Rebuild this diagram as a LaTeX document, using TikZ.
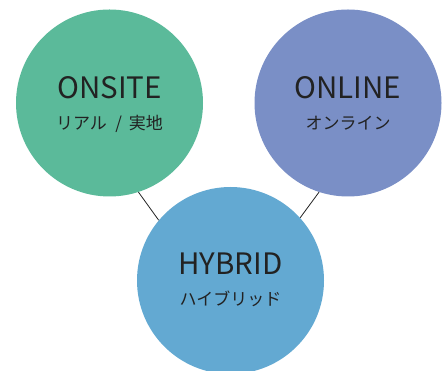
\documentclass[tikz,border=0pt]{standalone}
\usepackage{fontspec}
\newfontfamily\jpfont{Noto Sans CJK JP}
\definecolor{onsitegreen}{HTML}{5BBA9A}
\definecolor{onlineblue}{HTML}{7A8FC6}
\definecolor{hybridblue}{HTML}{63A9D2}
\definecolor{inkdark}{HTML}{222222}
\tikzset{
  bubble/.style={circle, inner sep=0pt, minimum size=187pt},
  title/.style={font=\jpfont\fontsize{29.5}{29.5}\selectfont, text=inkdark, anchor=base, inner sep=0pt},
  subtitle/.style={font=\jpfont\fontsize{17}{17}\selectfont, text=inkdark, anchor=base, inner sep=0pt},
  link/.style={draw=inkdark, line width=0.8pt}
}
\begin{document}
\begin{tikzpicture}[x=1pt,y=1pt]
  \useasboundingbox (0,0) rectangle (444,371);
  \clip (0,0) rectangle (444,371);
  % three circles
  \node[bubble, fill=onsitegreen] (onsite) at (109.5,268) {};
  \node[bubble, fill=onlineblue]  (online) at (348,268) {};
  \node[bubble, fill=hybridblue]  (hybrid) at (230.5,90.5) {};
  % short links across the gaps
  \draw[link] (onsite.-72.5) -- (hybrid.140);
  \draw[link] (online.-108) -- (hybrid.42);
  % labels
  \node[title]    (onsiteT) at ([yshift=4pt]onsite.center)   {ONSITE};
  \node[subtitle] (onsiteS) at ([yshift=-27pt]onsite.center) {リアル\hspace{0.5em}/\hspace{0.4em}実地};
  \node[title]    (onlineT) at ([yshift=4pt]online.center)   {ONLINE};
  \node[subtitle] (onlineS) at ([yshift=-27pt]online.center) {オンライン};
  \node[title]    (hybridT) at ([yshift=5.5pt]hybrid.center)   {HYBRID};
  \node[subtitle] (hybridS) at ([yshift=-25.5pt]hybrid.center) {ハイブリッド};
\end{tikzpicture}
\end{document}
